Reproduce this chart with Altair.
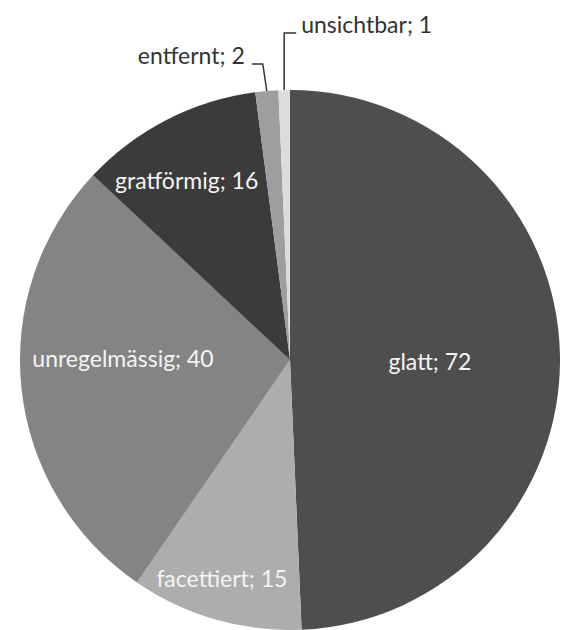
import math
import altair as alt
import pandas as pd

# ---------------- data ----------------
categories = ["glatt", "facettiert", "unregelmässig", "gratförmig", "entfernt", "unsichtbar"]
counts = [72, 15, 40, 16, 2, 1]

# ---------------- styles / layout ----------------
shades = ["#4e4e4e", "#adadad", "#848484", "#3b3b3b", "#9e9e9e", "#dcdcdc"]
W, H = 566, 630
CX, CY, R = 290, 360, 270
FONT = "Lato"
FS = 23
# inside labels: (radius, angular offset in degrees from slice middle)
inside = {
    "glatt": (140, 2.4),
    "facettiert": (230, 1.2),
    "unregelmässig": (167, 6.2),
    "gratförmig": (206, -3.0),
}
# outside labels: leader line elbow and end
outside = {
    "entfernt": dict(elbow_dx=-4, elbow_y=64, end_dx=-11, gap=-7, align="right"),
    "unsichtbar": dict(elbow_dx=0, elbow_y=33, end_dx=12, gap=5, align="left"),
}

total = sum(counts)
rows, lab_in, lines, lab_out = [], [], [], []
cum = 0
for i, (c, v) in enumerate(zip(categories, counts)):
    mid = (cum + v / 2) / total * 360.0
    cum += v
    rows.append({"category": c, "count": v, "idx": i})
    label = f"{c}; {v}"
    if c in inside:
        r, off = inside[c]
        a = math.radians(mid + off)
        lab_in.append({"label": label, "lx": CX + r * math.sin(a), "ly": CY - r * math.cos(a)})
    else:
        o = outside[c]
        a = math.radians(mid)
        ax, ay = CX + R * math.sin(a), CY - R * math.cos(a)
        ex, ey = ax + o["elbow_dx"], o["elbow_y"]
        fx = ex + o["end_dx"]
        lines += [
            {"category": c, "step": 0, "px": ax, "py": ay},
            {"category": c, "step": 1, "px": ex, "py": ey},
            {"category": c, "step": 2, "px": fx, "py": ey},
        ]
        lab_out.append({"label": label, "lx": fx + o["gap"], "ly": ey - 7, "align": o["align"]})

df = pd.DataFrame(rows)
df_in = pd.DataFrame(lab_in)
df_lines = pd.DataFrame(lines)
df_out = pd.DataFrame(lab_out)

arcs = alt.Chart(df).mark_arc(radius=R).encode(
    theta=alt.Theta("count:Q", stack=True),
    order=alt.Order("idx:Q"),
    color=alt.Color("category:N", scale=alt.Scale(domain=categories, range=shades), legend=None),
    x=alt.value(CX),
    y=alt.value(CY),
)

inner_text = alt.Chart(df_in).mark_text(
    font=FONT, fontSize=FS, color="#f4f4f4", align="center", baseline="middle"
).encode(
    x=alt.X("lx:Q", scale=None),
    y=alt.Y("ly:Q", scale=None),
    text="label:N",
)

leaders = alt.Chart(df_lines).mark_line(color="#333333", strokeWidth=1.5).encode(
    x=alt.X("px:Q", scale=None),
    y=alt.Y("py:Q", scale=None),
    detail="category:N",
    order="step:Q",
)

out_right = alt.Chart(df_out[df_out["align"] == "right"]).mark_text(
    font=FONT, fontSize=FS, color="#333333", align="right", baseline="middle"
).encode(x=alt.X("lx:Q", scale=None), y=alt.Y("ly:Q", scale=None), text="label:N")

out_left = alt.Chart(df_out[df_out["align"] == "left"]).mark_text(
    font=FONT, fontSize=FS, color="#333333", align="left", baseline="middle"
).encode(x=alt.X("lx:Q", scale=None), y=alt.Y("ly:Q", scale=None), text="label:N")

chart = (
    alt.layer(arcs, inner_text, leaders, out_right, out_left)
    .properties(width=W, height=H, padding=0, autosize="none", background="#ffffff")
    .configure_view(stroke=None)
)

chart.save("out.html", embed_options={"renderer": "svg", "actions": False})
